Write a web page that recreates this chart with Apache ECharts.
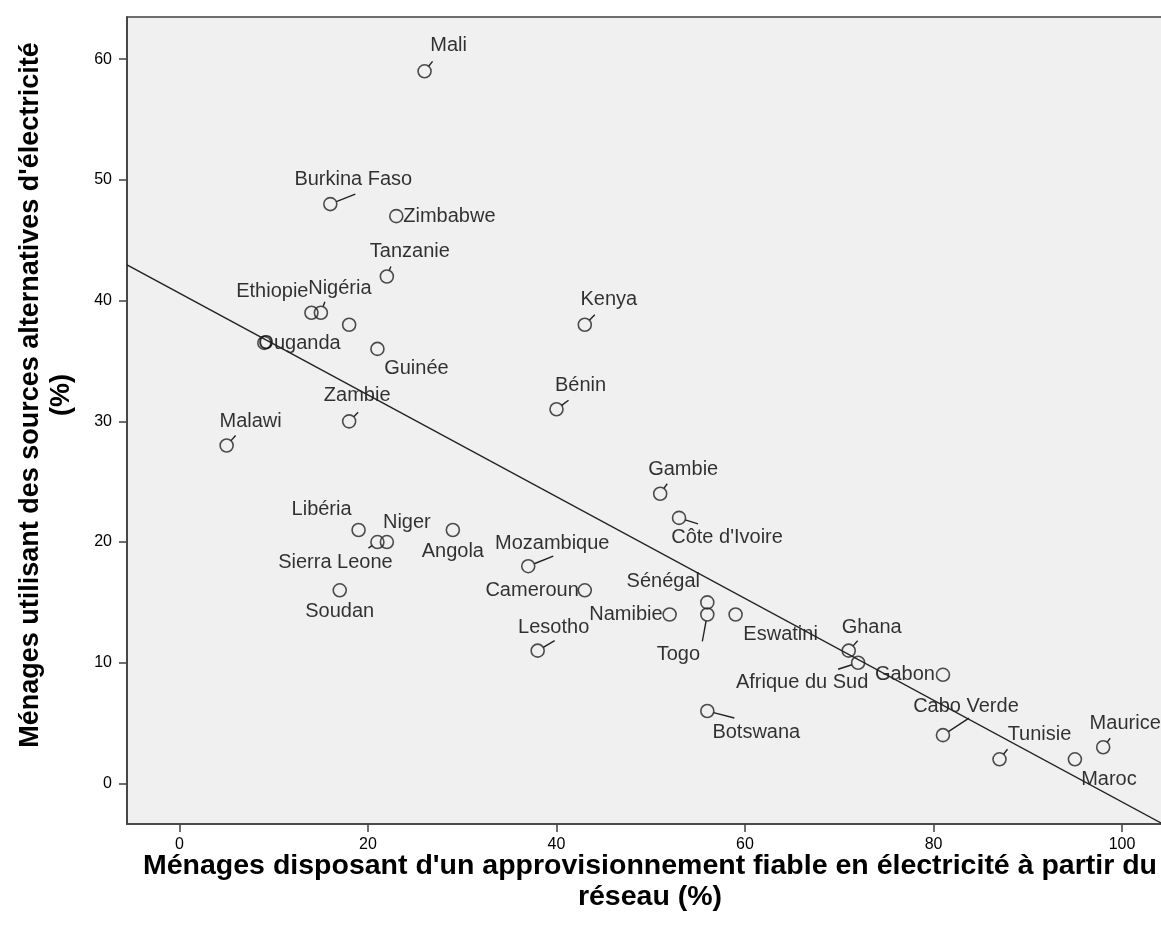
<!DOCTYPE html>
<html lang="fr">
<head>
<meta charset="utf-8">
<title>Approvisionnement en électricité</title>
<script src="https://cdn.jsdelivr.net/npm/echarts@6/dist/echarts.min.js"></script>
<style>
  html, body { margin: 0; padding: 0; background: #ffffff; }
  #chart { width: 1161px; height: 938px; }
</style>
</head>
<body>
<div id="chart"></div>
<script>
// Countries and their two survey percentages (x: reliable grid supply, y: alternative sources)
const countries = [
  'Mali', 'Burkina Faso', 'Zimbabwe', 'Tanzanie', 'Ethiopie', 'Nigéria', '', 'Ouganda',
  'Guinée', 'Kenya', 'Bénin', 'Zambie', 'Malawi', 'Libéria', 'Sierra Leone', 'Niger',
  'Angola', 'Mozambique', 'Soudan', 'Cameroun', 'Lesotho', 'Gambie', "Côte d'Ivoire",
  'Sénégal', 'Togo', 'Namibie', 'Eswatini', 'Ghana', 'Afrique du Sud', 'Gabon',
  'Botswana', 'Cabo Verde', 'Tunisie', 'Maroc', 'Maurice'
];
const reliableGridSupply = [
  26, 16, 23, 22, 14, 15, 18, 9,
  21, 43, 40, 18, 5, 19, 21, 22,
  29, 37, 17, 43, 38, 51, 53,
  56, 56, 52, 59, 71, 72, 81,
  56, 81, 87, 95, 98
];
const alternativeSources = [
  59, 48, 47, 42, 39, 39, 38, 36.5,
  36, 38, 31, 30, 28, 21, 20, 20,
  21, 18, 16, 16, 11, 24, 22,
  15, 14, 14, 14, 11, 10, 9,
  6, 4, 2, 2, 3
];
const xTicks = [0, 20, 40, 60, 80, 100];
const yTicks = [0, 10, 20, 30, 40, 50, 60];

const xTitle = "Ménages disposant d'un approvisionnement fiable en électricité à partir du\nréseau (%)";
const yTitle = "Ménages utilisant des sources alternatives d'électricité\n(%)";

// Axis extents of the plot frame
const X_MIN = -5.57, X_MAX = 104.24;
const Y_MIN = -3.36, Y_MAX = 63.5;

// Label placement (pixel offset of the text anchor from the marker centre)
// and optional leader line end (pixel offset from the marker centre).
const labelPlacement = {
  'Mali':           { at: [24, -26], lead: [8, -10] },
  'Burkina Faso':   { at: [23, -25], lead: [25, -10] },
  'Zimbabwe':       { at: [7, 0], align: 'left' },
  'Tanzanie':       { at: [23, -25], lead: [4, -10] },
  'Ethiopie':       { at: [-3, -21], align: 'right' },
  'Nigéria':        { at: [19, -24], lead: [4, -11] },
  'Ouganda':        { at: [-6, 1], align: 'left' },
  'Guinée':         { at: [39, 20] },
  'Kenya':          { at: [24, -25], lead: [10, -10] },
  'Bénin':          { at: [24, -24], lead: [12, -9] },
  'Zambie':         { at: [8, -26], lead: [9, -9] },
  'Malawi':         { at: [24, -24], lead: [9, -10] },
  'Libéria':        { at: [-37, -20] },
  'Sierra Leone':   { at: [-42, 20], lead: [-9, 6] },
  'Niger':          { at: [20, -20] },
  'Angola':         { at: [0, 22] },
  'Mozambique':     { at: [24, -23], lead: [25, -10] },
  'Soudan':         { at: [0, 21] },
  'Cameroun':       { at: [-6, 0], align: 'right' },
  'Lesotho':        { at: [16, -23], lead: [17, -10] },
  'Gambie':         { at: [23, -24], lead: [7, -10] },
  "Côte d'Ivoire":  { at: [48, 20], lead: [19, 6] },
  'Sénégal':        { at: [-44, -21] },
  'Togo':           { at: [-29, 40], lead: [-5, 27] },
  'Namibie':        { at: [-7, 0], align: 'right' },
  'Eswatini':       { at: [45, 20] },
  'Ghana':          { at: [23, -23], lead: [9, -10] },
  'Afrique du Sud': { at: [-56, 20], lead: [-20, 6.5] },
  'Gabon':          { at: [-8, 0], align: 'right' },
  'Botswana':       { at: [49, 21], lead: [27, 7] },
  'Cabo Verde':     { at: [23, -29], lead: [26, -17] },
  'Tunisie':        { at: [40, -25], lead: [8, -10] },
  'Maroc':          { at: [34, 20] },
  'Maurice':        { at: [22, -24], lead: [7, -9] }
};

const FONT = 'Liberation Sans, Arial, sans-serif';
const INK = '#000000';
const FRAME = '#404040';
const STROKE = '#222222';
const MARKER_R = 6.5;

// Ordinary least-squares fit of y on x
function linearFit(xs, ys) {
  const n = xs.length;
  const mx = xs.reduce((a, b) => a + b, 0) / n;
  const my = ys.reduce((a, b) => a + b, 0) / n;
  let sxy = 0, sxx = 0;
  for (let i = 0; i < n; i++) {
    sxy += (xs[i] - mx) * (ys[i] - my);
    sxx += (xs[i] - mx) * (xs[i] - mx);
  }
  const slope = sxy / sxx;
  return { slope, intercept: my - slope * mx };
}
const fit = linearFit(reliableGridSupply, alternativeSources);
const fitLine = [X_MIN, X_MAX].map(x => [x, fit.intercept + fit.slope * x]);

// Scatter points with their labels
const points = countries.map((name, i) => {
  const place = labelPlacement[name];
  const item = { name, value: [reliableGridSupply[i], alternativeSources[i]] };
  if (place) {
    item.label = {
      show: true,
      position: 'inside',
      formatter: '{b}',
      offset: place.at,
      align: place.align || 'center',
      verticalAlign: 'middle',
      fontSize: 20,
      fontFamily: FONT,
      color: INK
    };
  } else {
    item.label = { show: false };
  }
  return item;
});

// Leader lines between markers and displaced labels
const leaderIdx = countries
  .map((name, i) => (labelPlacement[name] && labelPlacement[name].lead) ? i : -1)
  .filter(i => i >= 0);
const leaderData = leaderIdx.map(i => [reliableGridSupply[i], alternativeSources[i]]);
const leaderEnds = leaderIdx.map(i => labelPlacement[countries[i]].lead);

const chart = echarts.init(document.getElementById('chart'), null, { renderer: 'canvas' });

chart.setOption({
  animation: false,
  backgroundColor: '#ffffff',
  textStyle: { fontFamily: FONT },
  grid: {
    left: 127, top: 17, width: 1035, height: 807,
    containLabel: false,
    outerBoundsMode: 'none',
    show: true,
    backgroundColor: '#f0f0f0',
    borderColor: FRAME,
    borderWidth: 1.6
  },
  xAxis: {
    type: 'value',
    min: X_MIN, max: X_MAX,
    axisLine: { show: true, onZero: false, lineStyle: { color: FRAME, width: 1.6 } },
    axisTick: { show: true, length: 8, customValues: xTicks, lineStyle: { color: FRAME, width: 1.5 } },
    axisLabel: { customValues: xTicks, margin: 13, fontSize: 16, color: INK, fontFamily: FONT },
    splitLine: { show: false }
  },
  yAxis: {
    type: 'value',
    min: Y_MIN, max: Y_MAX,
    axisLine: { show: true, onZero: false, lineStyle: { color: FRAME, width: 1.6 } },
    axisTick: { show: true, length: 8, customValues: yTicks, lineStyle: { color: FRAME, width: 1.5 } },
    axisLabel: { customValues: yTicks, margin: 15, fontSize: 16, color: INK, fontFamily: FONT },
    splitLine: { show: false }
  },
  graphic: [
    {
      type: 'text',
      x: 650, y: 882,
      silent: true,
      style: {
        text: xTitle,
        fontFamily: FONT, fontSize: 28.5, fontWeight: 'bold',
        lineHeight: 31,
        align: 'center', verticalAlign: 'middle',
        fill: '#000000'
      }
    },
    {
      type: 'text',
      x: 46, y: 395,
      rotation: Math.PI / 2,
      silent: true,
      style: {
        text: yTitle,
        fontFamily: FONT, fontSize: 27, fontWeight: 'bold',
        lineHeight: 31,
        align: 'center', verticalAlign: 'middle',
        fill: '#000000'
      }
    }
  ],
  series: [
    {
      type: 'scatter',
      z: 3,
      silent: true,
      symbol: 'circle',
      symbolSize: MARKER_R * 2,
      itemStyle: { color: 'rgba(0,0,0,0)', borderColor: STROKE, borderWidth: 1.6 },
      label: { formatter: '{b}', fontSize: 20, fontFamily: FONT, color: INK },
      emphasis: { disabled: true },
      data: points
    },
    {
      type: 'custom',
      z: 4,
      silent: true,
      clip: true,
      data: leaderData,
      encode: { x: 0, y: 1 },
      renderItem: function (params, api) {
        const c = api.coord([api.value(0), api.value(1)]);
        const end = leaderEnds[params.dataIndex];
        const len = Math.hypot(end[0], end[1]);
        const ux = end[0] / len, uy = end[1] / len;
        return {
          type: 'line',
          shape: {
            x1: c[0] + ux * MARKER_R, y1: c[1] + uy * MARKER_R,
            x2: c[0] + end[0], y2: c[1] + end[1]
          },
          style: { stroke: STROKE, lineWidth: 1.4 }
        };
      }
    },
    {
      type: 'line',
      z: 5,
      silent: true,
      clip: true,
      symbol: 'none',
      lineStyle: { color: STROKE, width: 1.5 },
      emphasis: { disabled: true },
      data: fitLine
    }
  ]
});
</script>
</body>
</html>
